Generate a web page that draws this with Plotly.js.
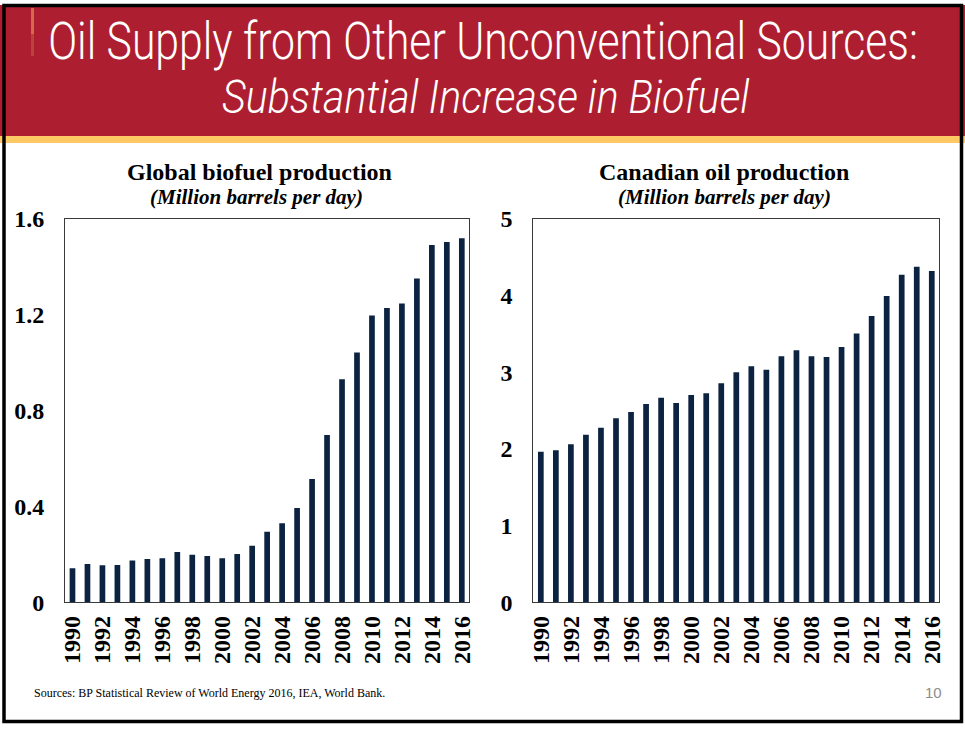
<!DOCTYPE html>
<html>
<head>
<meta charset="utf-8">
<script src="https://cdn.plot.ly/plotly-3.0.1.min.js"></script>
<style>
  html, body { margin: 0; padding: 0; background: #ffffff; }
  #chart { width: 965px; height: 729px; }
</style>
</head>
<body>
<div id="chart"></div>
<script>
// Years shown on both panels
const years = [1990, 1991, 1992, 1993, 1994, 1995, 1996, 1997, 1998, 1999,
               2000, 2001, 2002, 2003, 2004, 2005, 2006, 2007, 2008, 2009,
               2010, 2011, 2012, 2013, 2014, 2015, 2016];

// Global biofuel production, million barrels per day
const biofuel = [0.142, 0.160, 0.155, 0.156, 0.175, 0.181, 0.184, 0.210, 0.199, 0.193,
                 0.184, 0.202, 0.236, 0.295, 0.330, 0.394, 0.515, 0.698, 0.931, 1.043,
                 1.197, 1.229, 1.247, 1.352, 1.491, 1.504, 1.520];

// Canadian oil production, million barrels per day
const canada = [1.964, 1.982, 2.061, 2.187, 2.278, 2.400, 2.482, 2.587, 2.669, 2.600,
                2.704, 2.726, 2.856, 3.000, 3.078, 3.034, 3.208, 3.287, 3.208, 3.199,
                3.330, 3.508, 3.734, 3.995, 4.273, 4.377, 4.321];

// Labelled years on the x axes (every second year)
const yearTicks = [1990, 1992, 1994, 1996, 1998, 2000, 2002, 2004, 2006,
                   2008, 2010, 2012, 2014, 2016];

// Y axis ticks
const biofuelTicks = [0, 0.4, 0.8, 1.2, 1.6];
const canadaTicks = [0, 1, 2, 3, 4, 5];

const slideTitle = 'Oil Supply from Other Unconventional Sources:';
const slideSubtitle = 'Substantial Increase in Biofuel';
const leftTitle = 'Global biofuel production';
const rightTitle = 'Canadian oil production';
const unitsLabel = '(Million barrels per day)';
const sourceNote = 'Sources: BP Statistical Review of World Energy 2016, IEA, World Bank.';
const pageNumber = '10';

const W = 965, H = 729;
const px = x => x / W;
const py = y => 1 - y / H;

const BAR = '#0B2240';
const SERIF = 'Liberation Serif, Times New Roman, serif';
const HEAD = 'Roboto, Liberation Sans, sans-serif';

const traces = [
  { type: 'bar', x: years, y: biofuel, xaxis: 'x', yaxis: 'y',
    marker: { color: BAR, line: { width: 0 } }, hoverinfo: 'x+y' },
  { type: 'bar', x: years, y: canada, xaxis: 'x2', yaxis: 'y2',
    marker: { color: BAR, line: { width: 0 } }, hoverinfo: 'x+y' }
];

const tickFont = { family: SERIF, size: 24, color: '#000', weight: 'bold' };

function xAxis(domain, anchor) {
  return {
    domain: domain, anchor: anchor, type: 'linear',
    range: [1989.5, 2016.5], tickvals: yearTicks, ticktext: yearTicks.map(String),
    tickangle: -90, ticks: '', ticklabelstandoff: 3,
    tickfont: tickFont,
    showgrid: false, zeroline: false,
    showline: true, mirror: true, linecolor: '#3a3a3a', linewidth: 1,
    fixedrange: true
  };
}
function yAxis(domain, anchor, range, vals) {
  return {
    domain: domain, anchor: anchor, range: range,
    tickvals: vals, ticktext: vals.map(String),
    ticks: '', ticklabelstandoff: 15,
    tickfont: tickFont,
    showgrid: false, zeroline: false,
    showline: true, mirror: true, linecolor: '#3a3a3a', linewidth: 1,
    fixedrange: true
  };
}

const yDom = [py(602.3), py(219)];

const layout = {
  width: W, height: H,
  margin: { l: 0, r: 0, t: 0, b: 0 },
  paper_bgcolor: '#ffffff', plot_bgcolor: '#ffffff',
  showlegend: false, bargap: 0.62,
  xaxis: xAxis([px(65), px(469.3)], 'y'),
  yaxis: yAxis(yDom, 'x', [0, 1.6], biofuelTicks),
  xaxis2: xAxis([px(533.3), px(939.3)], 'y2'),
  yaxis2: yAxis(yDom, 'x2', [0, 5], canadaTicks),
  shapes: [
    // header band
    { type: 'rect', xref: 'paper', yref: 'paper', x0: 0, x1: 1, y0: py(136), y1: py(5),
      fillcolor: '#AD1F30', line: { width: 0 }, layer: 'below' },
    // gold rule under the header
    { type: 'rect', xref: 'paper', yref: 'paper', x0: 0, x1: 1, y0: py(143), y1: py(136),
      fillcolor: '#FDC965', line: { width: 0 }, layer: 'below' },
    // small glowing streak at the top left
    { type: 'rect', xref: 'paper', yref: 'paper', x0: px(31), x1: px(34), y0: py(34), y1: py(8),
      fillcolor: '#E08452', opacity: 0.75, line: { width: 0 }, layer: 'below' },
    { type: 'rect', xref: 'paper', yref: 'paper', x0: px(31), x1: px(34), y0: py(56), y1: py(34),
      fillcolor: '#E08452', opacity: 0.35, line: { width: 0 }, layer: 'below' },
    // slide frame
    { type: 'rect', xref: 'paper', yref: 'paper', x0: px(4), x1: px(961.5), y0: py(721.5), y1: py(5.5),
      fillcolor: 'rgba(0,0,0,0)', line: { color: '#000', width: 3.5 } }
  ],
  annotations: [
    { text: slideTitle, xref: 'paper', yref: 'paper', x: px(483), y: py(41),
      xanchor: 'center', yanchor: 'middle', showarrow: false,
      font: { family: HEAD, size: 51, weight: 300, color: '#ffffff' } },
    { text: '<i>' + slideSubtitle + '</i>', xref: 'paper', yref: 'paper', x: px(486), y: py(96),
      xanchor: 'center', yanchor: 'middle', showarrow: false,
      font: { family: HEAD, size: 47, weight: 300, color: '#ffffff' } },
    { text: '<b>' + leftTitle + '</b>', xref: 'paper', yref: 'paper', x: px(259), y: py(172),
      xanchor: 'center', yanchor: 'middle', showarrow: false,
      font: { family: SERIF, size: 24, color: '#000' } },
    { text: '<b><i>' + unitsLabel + '</i></b>', xref: 'paper', yref: 'paper', x: px(256.5), y: py(197),
      xanchor: 'center', yanchor: 'middle', showarrow: false,
      font: { family: SERIF, size: 21, color: '#000' } },
    { text: '<b>' + rightTitle + '</b>', xref: 'paper', yref: 'paper', x: px(724), y: py(172),
      xanchor: 'center', yanchor: 'middle', showarrow: false,
      font: { family: SERIF, size: 24, color: '#000' } },
    { text: '<b><i>' + unitsLabel + '</i></b>', xref: 'paper', yref: 'paper', x: px(724), y: py(197),
      xanchor: 'center', yanchor: 'middle', showarrow: false,
      font: { family: SERIF, size: 21, color: '#000' } },
    { text: sourceNote, xref: 'paper', yref: 'paper', x: px(32), y: py(693),
      xanchor: 'left', yanchor: 'middle', showarrow: false,
      font: { family: SERIF, size: 12, color: '#000' } },
    { text: pageNumber, xref: 'paper', yref: 'paper', x: px(944), y: py(692.5),
      xanchor: 'right', yanchor: 'middle', showarrow: false,
      font: { family: 'Liberation Sans, Arial, sans-serif', size: 15, color: '#8c8c8c' } }
  ]
};

// The slide headings use a condensed face; squeeze them horizontally to the
// header's text span (left edge, width in px).
const headSpans = [[48, 870], [222, 528]];

function condenseHeadings(gd) {
  const groups = gd.querySelectorAll('g.annotation');
  headSpans.forEach(([left, width], i) => {
    const g = groups[i];
    if (!g) return;
    const txt = g.querySelector('text');
    const r = txt.getBoundingClientRect();
    const gr = gd.getBoundingClientRect();
    const x0 = r.left - gr.left;
    const s = width / r.width;
    g.setAttribute('transform',
      'translate(' + left + ',0) scale(' + s + ',1) translate(' + (-x0) + ',0)');
  });
}

Plotly.newPlot('chart', traces, layout, { displayModeBar: false, staticPlot: true })
  .then(gd => condenseHeadings(gd));
</script>
</body>
</html>
